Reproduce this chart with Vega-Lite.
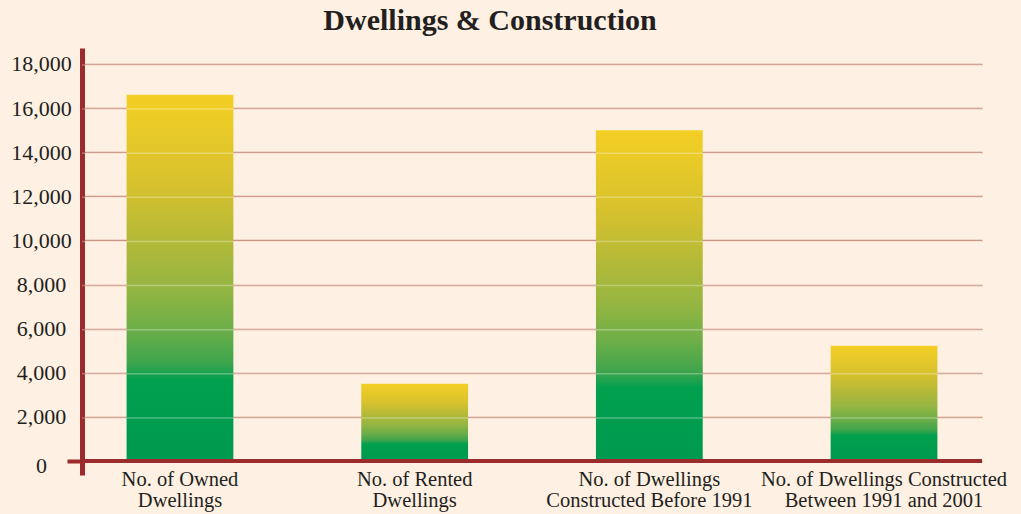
{
  "$schema": "https://vega.github.io/schema/vega-lite/v6.json",
  "width": 900,
  "height": 427,
  "autosize": {"type": "none"},
  "padding": {"left": 82, "top": 48, "right": 39, "bottom": 39},
  "background": "#FEF0E2",
  "config": {"view": {"stroke": null}, "font": "Liberation Serif"},
  "title": {
    "text": "Dwellings & Construction",
    "font": "Liberation Serif",
    "fontSize": 30,
    "fontWeight": "bold",
    "color": "#231F20",
    "anchor": "middle",
    "dx": -42,
    "offset": -12,
    "baseline": "alphabetic"
  },
  "datasets": {
    "bars": [
      {"category": "No. of Owned|Dwellings", "value": 16600},
      {"category": "No. of Rented|Dwellings", "value": 3500},
      {"category": "No. of Dwellings|Constructed Before 1991", "value": 15000},
      {"category": "No. of Dwellings Constructed|Between 1991 and 2001", "value": 5230}
    ],
    "grid": [
      {"v": 2000}, {"v": 4000}, {"v": 6000}, {"v": 8000}, {"v": 10000},
      {"v": 12000}, {"v": 14000}, {"v": 16000}, {"v": 18000}
    ],
    "zero": [{"v": 0}]
  },
  "layer": [
    {
      "data": {"name": "bars"},
      "mark": {
        "type": "bar",
        "color": {
          "gradient": "linear",
          "x1": 0, "y1": 0, "x2": 0, "y2": 1,
          "stops": [
            {"offset": 0, "color": "#F4CF24"},
            {"offset": 0.25, "color": "#D6C12E"},
            {"offset": 0.4, "color": "#B3B938"},
            {"offset": 0.52, "color": "#97B641"},
            {"offset": 0.64, "color": "#6CAE48"},
            {"offset": 0.73, "color": "#3FA54D"},
            {"offset": 0.78, "color": "#00A04E"},
            {"offset": 1, "color": "#00994F"}
          ]
        }
      },
      "encoding": {
        "x": {
          "field": "category",
          "type": "nominal",
          "sort": null,
          "scale": {"paddingInner": 0.545, "paddingOuter": 0.19},
          "axis": {
            "title": null,
            "domain": false,
            "ticks": false,
            "grid": false,
            "labelAngle": 0,
            "labelExpr": "split(datum.label, '|')",
            "labelFont": "Liberation Serif",
            "labelFontSize": 20.5,
            "labelLineHeight": 21,
            "labelPadding": -6,
            "labelLimit": 0,
            "labelColor": "#231F20"
          }
        },
        "y": {
          "field": "value",
          "type": "quantitative",
          "scale": {"domain": [-635, 18725], "nice": false, "zero": false},
          "axis": {
            "title": null,
            "values": [0, 2000, 4000, 6000, 8000, 10000, 12000, 14000, 16000, 18000],
            "format": ",d",
            "domainColor": "#9B2B2C",
            "domainWidth": 5,
            "grid": true,
            "gridColor": "#C98B7A",
            "gridWidth": 1.5,
            "ticks": true,
            "tickSize": 15,
            "tickWidth": 4,
            "tickColor": "#9B2B2C",
            "tickOpacity": {"condition": {"test": "datum.value === 0", "value": 1}, "value": 0},
            "labelAlign": "center",
            "labelPadding": 26,
            "labelOffset": {"condition": {"test": "datum.value === 0", "value": 5}, "value": 0},
            "labelFont": "Liberation Serif",
            "labelFontSize": 22,
            "labelColor": "#231F20"
          }
        }
      }
    },
    {
      "data": {"name": "zero"},
      "mark": {"type": "rule", "color": "#9B2B2C", "strokeWidth": 4},
      "encoding": {"y": {"field": "v", "type": "quantitative"}}
    },
    {
      "data": {"name": "grid"},
      "mark": {"type": "rule", "color": "#FFFFFF", "opacity": 0.3, "strokeWidth": 1.5, "yOffset": 1},
      "encoding": {"y": {"field": "v", "type": "quantitative"}}
    }
  ]
}
